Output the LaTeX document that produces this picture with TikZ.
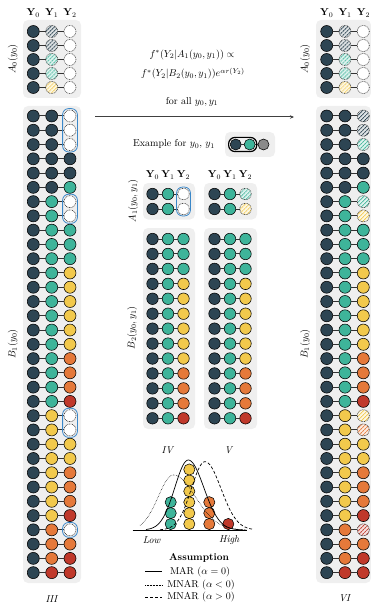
\documentclass[tikz,border=0pt]{standalone}
\usepackage{amsmath}
\usetikzlibrary{patterns.meta,arrows.meta,fit}
\definecolor{cnavy}{HTML}{2D4553}
\definecolor{cgreen}{HTML}{3EB49A}
\definecolor{cyellow}{HTML}{F2C94C}
\definecolor{corange}{HTML}{E5793A}
\definecolor{cred}{HTML}{C0392B}
\definecolor{cpanel}{HTML}{EFEFEF}
\definecolor{cblue}{HTML}{3A87C8}
\definecolor{cexgray}{HTML}{8A8A8A}
\newcommand\trio[8]{%
  \node[#6] (#1-1) at (#3,#2) {};
  \node[#7] (#1-2) at (#4,#2) {};
  \node[#8] (#1-3) at (#5,#2) {};
  \draw[link] (#1-1) -- (#1-2);
  \draw[link] (#1-2) -- (#1-3);}
\begin{document}
\begin{tikzpicture}[x=1pt,y=-1pt,
  dotbase/.style={circle, draw=black, line width=0.55pt, inner sep=0pt, outer sep=0pt, minimum size=\dotsize},
  cD/.style={dotbase, fill=cnavy},
  cG/.style={dotbase, fill=cgreen},
  cY/.style={dotbase, fill=cyellow},
  cO/.style={dotbase, fill=corange},
  cR/.style={dotbase, fill=cred},
  cX/.style={dotbase, fill=cexgray},
  cW/.style={dotbase, fill=white, draw=black!85, dash pattern=on 0.8pt off 0.8pt},
  hatch/.style={dotbase, draw=black!85, dash pattern=on 0.8pt off 0.8pt, preaction={fill=#1!15},
     pattern={Lines[angle=45,distance=2.8pt,line width=1pt]}, pattern color=#1},
  hD/.style={hatch=cnavy}, hG/.style={hatch=cgreen}, hY/.style={hatch=cyellow},
  hO/.style={hatch=corange}, hR/.style={hatch=cred},
  link/.style={draw=black!80, line width=1pt},
  panel/.style={fill=cpanel, rounded corners=5pt},
  bluebox/.style={draw=cblue, line width=0.8pt, rounded corners=6pt, inner sep=1.4pt},
  hdr/.style={inner sep=1pt},
  lbl/.style={rotate=90, inner sep=1pt}]
\useasboundingbox (0,0) rectangle (371,604);
\def\dotsize{12pt}
% ---------- panels ----------
\fill[panel] (23,20) rectangle (81,98);
\fill[panel] (23,106) rectangle (81,583);
\fill[panel] (316,20) rectangle (371,98);
\fill[panel] (316,106) rectangle (371,583);
\fill[panel] (143,183) rectangle (195,219.5);
\fill[panel] (143,228) rectangle (195,429);
\fill[panel] (204,183) rectangle (257,219.5);
\fill[panel] (204,228) rectangle (257,429);
\fill[panel] (225,132) rectangle (275,157);
% ---------- headers ----------
\foreach \px/\nm in {0/L,293.4/R}{
  \node[hdr] (h\nm0) at (33.3+\px,13) {$\mathbf{Y}_0$};
  \node[hdr] (h\nm1) at (51.7+\px,13) {$\mathbf{Y}_1$};
  \node[hdr] (h\nm2) at (70+\px,13) {$\mathbf{Y}_2$};
}
\node[hdr] (hM0) at (152.5,175) {$\mathbf{Y}_0$};
\node[hdr] (hM1) at (168,175) {$\mathbf{Y}_1$};
\node[hdr] (hM2) at (183.5,175) {$\mathbf{Y}_2$};
\node[hdr] (hN0) at (214.5,175) {$\mathbf{Y}_0$};
\node[hdr] (hN1) at (230,175) {$\mathbf{Y}_1$};
\node[hdr] (hN2) at (245.5,175) {$\mathbf{Y}_2$};
% ---------- side labels ----------
\node[lbl] (lA0L) at (13,59) {$A_0(y_0)$};
\node[lbl] (lB1L) at (13,344) {$B_1(y_0)$};
\node[lbl] (lA0R) at (305,59) {$A_0(y_0)$};
\node[lbl] (lB1R) at (305,344) {$B_1(y_0)$};
\node[lbl] (lA1) at (133,201) {$A_1(y_0,y_1)$};
\node[lbl] (lB2) at (132,328) {$B_2(y_0,y_1)$};
% ---------- A0 panels ----------
\foreach \a/\b/\c [count=\i] in {cD/hD/cW,cD/hD/cW,cD/hG/cW,cD/hG/cW,cD/hY/cW}{
  \pgfmathsetmacro\yy{31.5+(\i-1)*14}
  \trio{LA\i}{\yy}{33.3}{51.7}{70}{\a}{\b}{\c}
  \trio{RA\i}{\yy}{326.7}{345}{363.3}{\a}{\b}{\c}
}
% ---------- B1 left ----------
\foreach \a/\b/\c [count=\i] in {
  cD/cD/cW,cD/cD/cW,cD/cD/cW,cD/cD/cD,cD/cD/cD,cD/cD/cG,
  cD/cG/cW,cD/cG/cW,cD/cG/cG,cD/cG/cG,cD/cG/cG,
  cD/cG/cY,cD/cG/cY,cD/cG/cY,cD/cG/cY,cD/cG/cY,cD/cG/cY,
  cD/cG/cO,cD/cG/cO,cD/cG/cO,cD/cG/cR,
  cD/cY/cW,cD/cY/cW,cD/cY/cY,cD/cY/cY,cD/cY/cO,cD/cY/cO,cD/cY/cO,cD/cY/cR,
  cD/cO/cW,cD/cO/cO,cD/cO/cR,cD/cR/cR}{
  \pgfmathsetmacro\yy{116+(\i-1)*14.27}
  \trio{LB\i}{\yy}{33.3}{51.7}{70}{\a}{\b}{\c}
}
% ---------- B1 right ----------
\foreach \a/\b/\c [count=\i] in {
  cD/cD/hD,cD/cD/hD,cD/cD/hG,cD/cD/cD,cD/cD/cD,cD/cD/cG,
  cD/cG/hG,cD/cG/hY,cD/cG/cG,cD/cG/cG,cD/cG/cG,
  cD/cG/cY,cD/cG/cY,cD/cG/cY,cD/cG/cY,cD/cG/cY,cD/cG/cY,
  cD/cG/cO,cD/cG/cO,cD/cG/cO,cD/cG/cR,
  cD/cY/hY,cD/cY/hO,cD/cY/cY,cD/cY/cY,cD/cY/cO,cD/cY/cO,cD/cY/cO,cD/cY/cR,
  cD/cO/hR,cD/cO/cO,cD/cO/cR,cD/cR/cR}{
  \pgfmathsetmacro\yy{116+(\i-1)*14.27}
  \trio{RB\i}{\yy}{326.7}{345}{363.3}{\a}{\b}{\c}
}
% ---------- blue boxes left ----------
\node[bluebox, fit=(LB1-3)(LB3-3)] (bx1) {};
\node[bluebox, fit=(LB7-3)(LB8-3)] (bx2) {};
\node[bluebox, fit=(LB22-3)(LB23-3)] (bx3) {};
\node[bluebox, fit=(LB30-3)] (bx4) {};
% ---------- middle panels ----------
\def\dotsize{11.5pt}
\trio{MA1}{194}{152.5}{168}{183.5}{cD}{cG}{cW}
\trio{MA2}{209}{152.5}{168}{183.5}{cD}{cG}{cW}
\trio{NA1}{194}{214.5}{230}{245.5}{cD}{cG}{hG}
\trio{NA2}{209}{214.5}{230}{245.5}{cD}{cG}{hY}
\node[bluebox, inner sep=1.2pt, fit=(MA1-3)(MA2-3)] (bx5) {};
\foreach \c [count=\i] in {cG,cG,cG,cY,cY,cY,cY,cY,cY,cO,cO,cO,cR}{
  \pgfmathsetmacro\yy{239+(\i-1)*14.94}
  \trio{MB\i}{\yy}{152.5}{168}{183.5}{cD}{cG}{\c}
  \trio{NB\i}{\yy}{214.5}{230}{245.5}{cD}{cG}{\c}
}
% ---------- formula and arrow ----------
\node (f1) at (192,55) {$f^*(Y_2|A_1(y_0,y_1))\propto$};
\node (f2) at (193,73.5) {$f^*(Y_2|B_2(y_0,y_1))e^{\alpha r(Y_2)}$};
\node (f3) at (192,101.5) {for all $y_0,y_1$};
\coordinate (arrL) at (95,117);
\coordinate (arrR) at (294,117);
\draw[draw=black!75, line width=1pt, -{Stealth[length=4pt,width=3.5pt]}] (arrL) -- (arrR);
% ---------- example ----------
\node (ex) at (174,144) {Example for $y_0$, $y_1$};
\def\dotsize{11pt}
\node[cD] (ex1) at (235.7,144.5) {};
\node[cG] (ex2) at (249.7,144.5) {};
\node[cX] (ex3) at (263.5,144.5) {};
\draw[link] (ex1) -- (ex2);
\draw[link] (ex2) -- (ex3);
\node[draw=black, line width=1.2pt, rounded corners=6.5pt, inner sep=1.6pt, fit=(ex1)(ex2)] (exbox) {};
% ---------- roman labels ----------
\node (tIII) at (52,599) {\textit{III}};
\node (tVI) at (345,598) {\textit{VI}};
\node (tIV) at (168,450) {\textit{IV}};
\node (tV) at (229,450) {\textit{V}};
% ---------- distribution ----------
\def\dotsize{11.2pt}
\foreach \k in {0,1,2}{
  \node[cG] (pg\k) at (170.7,{524-\k*10.9}) {};
  \node[cO] (po\k) at (209.3,{524-\k*10.9}) {};
}
\foreach \k in {0,...,5}{
  \node[cY] (py\k) at (189.3,{524-\k*10.9}) {};
}
\node[cR] (pr0) at (228.3,524) {};
\coordinate (bl) at (132.7,530);
\coordinate (br) at (246.7,530);
\draw[line width=0.9pt] (bl) -- (br);
\draw[line width=0.7pt]
  plot[domain=146:188.3,samples=40] (\x,{530-70*exp(-((\x-188.3)/13.5)*((\x-188.3)/13.5)/2)})
  -- plot[domain=188.3:243,samples=40] (\x,{530-70*exp(-((\x-188.3)/15.5)*((\x-188.3)/15.5)/2)});
\draw[line width=0.55pt, dash pattern=on 0.5pt off 1pt]
  plot[domain=140:173.3,samples=40] (\x,{530-55*exp(-((\x-173.3)/15)*((\x-173.3)/15)/2)})
  -- plot[domain=173.3:246,samples=50] (\x,{530-55*exp(-((\x-173.3)/22)*((\x-173.3)/22)/2)});
\draw[line width=0.7pt, dash pattern=on 3pt off 2pt]
  plot[domain=160:205,samples=40] (\x,{530-68.3*exp(-((\x-205)/13.6)*((\x-205)/13.6)/2)})
  -- plot[domain=205:252,samples=40] (\x,{530-68.3*exp(-((\x-205)/16)*((\x-205)/16)/2)});
\node (low) at (151.7,540) {\textit{Low}};
\node (high) at (229.3,540) {\textit{High}};
% ---------- legend ----------
\node (leg) at (199,557.5) {\textbf{Assumption}};
\coordinate (l1a) at (145,571.7); \coordinate (l1b) at (162,571.7);
\coordinate (l2a) at (145,585); \coordinate (l2b) at (162,585);
\coordinate (l3a) at (145,597.3); \coordinate (l3b) at (162,597.3);
\draw[line width=0.8pt] (l1a) -- (l1b);
\draw[line width=0.5pt, dash pattern=on 0.5pt off 1pt] (l2a) -- (l2b);
\draw[line width=0.8pt, dash pattern=on 3pt off 2pt] (l3a) -- (l3b);
\node (t1) at (200,571.7) {MAR ($\alpha=0$)};
\node (t2) at (201,585) {MNAR ($\alpha<0$)};
\node (t3) at (201,597.3) {MNAR ($\alpha>0$)};
\end{tikzpicture}
\end{document}
